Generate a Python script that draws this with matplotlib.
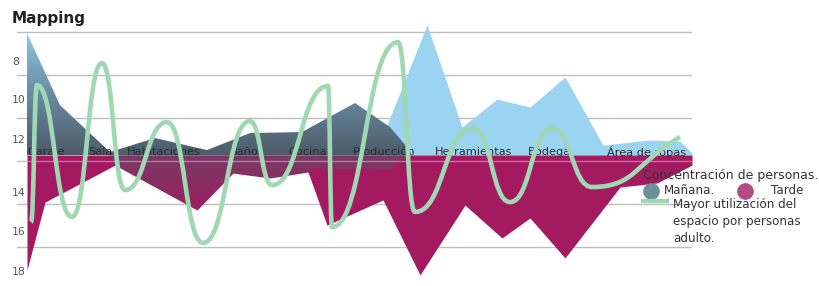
import numpy as np
import matplotlib
matplotlib.use('Agg')
import matplotlib.pyplot as plt
from matplotlib.path import Path
from matplotlib.patches import PathPatch
from matplotlib.lines import Line2D
from matplotlib.colors import to_rgb

# categories and where their labels start along the x axis
categories = ['Garaje', 'Sala', 'Habitaciones', 'Baño', 'Cocina', 'Producción',
              'Herramientas', 'Bodega', 'Área de ropas']
cat_pos = [27, 88, 127, 230, 288, 353, 435, 528, 607]

baseline = 11.72

# Mañana (dark gradient part): top edge, then lower edge
manana_top_x = [27, 27, 60, 110, 155, 207, 250, 302, 355, 390, 407, 412]
manana_top_v = [11.72, 6.05, 9.40, 11.58, 10.93, 11.49, 10.70, 10.65, 9.30, 10.42, 11.35, 11.72]
manana_low_x = [27, 110, 115, 197, 233, 270, 308, 315, 390, 398, 412]
manana_low_v = [11.72, 11.72, 12.19, 14.28, 12.56, 12.79, 12.51, 12.33, 12.42, 12.05, 11.72]

# Mañana (light blue part)
blue_x = [375, 427, 462, 497, 530, 565, 603, 650, 680, 692]
blue_v = [11.72, 5.67, 10.42, 9.12, 9.49, 8.09, 11.26, 11.02, 11.07, 11.63]

# Tarde lower edge
tarde_x = [27, 27, 45, 115, 197, 233, 270, 308, 327, 383, 420, 465, 502, 530, 565, 620, 657, 692]
tarde_v = [11.72, 17.07, 13.91, 12.19, 14.28, 12.56, 12.79, 12.51, 14.98, 13.81, 17.30,
           14.05, 15.58, 14.65, 16.51, 13.21, 13.02, 12.19]

# mayor utilización (smoothed line through peaks and troughs)
green_x = [31, 37, 72, 102, 125, 167, 203, 250, 272, 328, 332, 398, 415, 473, 510, 552, 592, 680]
green_v = [14.84, 8.47, 14.60, 7.44, 13.35, 10.19, 15.81, 10.14, 13.12, 8.51, 15.07, 6.47,
           14.37, 10.47, 13.91, 10.47, 13.21, 10.88]

grid_vals = [6, 8, 10, 12, 14, 16]
ytick_labels = ['8', '10', '12', '14', '16', '18']
ytick_pos = [7.40, 9.16, 11.02, 13.49, 15.30, 17.16]

light_blue = '#9bd4f1'
magenta = '#a31a60'
green = '#a0d8b4'
slate = '#4d5b69'

fig = plt.figure(figsize=(8.19, 2.86), dpi=100)
ax = fig.add_axes([17 / 819, 1 - 282 / 286, 675 / 819, 260 / 286])

ax.set_yticks(grid_vals)
ax.yaxis.grid(True, color='#bdbdbd', lw=1)
ax.set_axisbelow(True)
ax.tick_params(left=False, labelleft=False, bottom=False, labelbottom=False)
for s in ax.spines.values():
    s.set_visible(False)

ax.fill_between(blue_x, blue_v, baseline, color=light_blue, lw=0, zorder=1)
ax.fill_between(tarde_x, baseline, tarde_v, color=magenta, lw=0, zorder=1.5)

# gradient for the dark Mañana area
ymin, ymax = 5.53, 17.63
vs = np.linspace(ymin, ymax, 400)
c_top = np.array(to_rgb('#8fd0ef'))
c_bot = np.array(to_rgb(slate))
img = np.zeros((len(vs), 1, 4))
for i, v in enumerate(vs):
    if v <= baseline:
        t = np.clip((v - 6) / (baseline - 6), 0, 1) ** 0.8
        img[i, 0, :3] = c_top * (1 - t) + c_bot * t
        img[i, 0, 3] = 1
    else:
        t = np.clip((v - baseline) / 2.6, 0, 1)
        img[i, 0, :3] = c_bot
        img[i, 0, 3] = 0.5 * (1 - t) + 0.08 * t
poly = ax.fill(manana_top_x + manana_low_x[::-1], manana_top_v + manana_low_v[::-1],
               facecolor='none', edgecolor='none')[0]
im = ax.imshow(img, extent=(17, 692, ymax, ymin), origin='upper', aspect='auto', zorder=2)
im.set_clip_path(poly)

# faint gridline showing through the areas
ax.axhline(12, color='#e6c4d6', lw=0.9, alpha=0.55, zorder=2.5)

for name, x in zip(categories, cat_pos):
    ax.text(x, 11.58, name, fontsize=8.2, color='#2b2b2b', ha='left', va='center', zorder=3)

for lab, v in zip(ytick_labels, ytick_pos):
    ax.text(-0.0074, v, lab, transform=ax.get_yaxis_transform(), fontsize=7.8,
            color='#555555', ha='left', va='center')

# smooth line as cubic bezier segments
k = 0.5
verts = [(green_x[0], green_v[0])]
codes = [Path.MOVETO]
n = len(green_x)
for i in range(n - 1):
    x0, y0, x1, y1 = green_x[i], green_v[i], green_x[i + 1], green_v[i + 1]
    dx = x1 - x0
    c1 = (x0 + k * dx, y0)
    if i == n - 2:
        c2 = (x1 - k * dx, y1 - 0.5 * (y1 - y0))
    else:
        c2 = (x1 - k * dx, y1)
    verts += [c1, c2, (x1, y1)]
    codes += [Path.CURVE4] * 3
ax.add_patch(PathPatch(Path(verts, codes), facecolor='none', edgecolor=green, lw=3.3,
                       capstyle='butt', zorder=4))

ax.set_xlim(17, 692)
ax.set_ylim(ymax, ymin)

fig.text(12 / 819, 1 - 18 / 286, 'Mapping', fontsize=11, fontweight='bold', color='#222222',
         va='center', ha='left')

# legend
fs = 8.6
fig.text(643 / 819, 1 - 175 / 286, 'Concentración de personas.', fontsize=9, color='#333333',
         va='center', ha='left')
fig.add_artist(Line2D([651 / 819], [1 - 191 / 286], marker='o', ms=11, color='#6c8f98',
                      transform=fig.transFigure))
fig.text(664 / 819, 1 - 191 / 286, 'Mañana.', fontsize=fs, color='#333333', va='center', ha='left')
fig.add_artist(Line2D([745 / 819], [1 - 191 / 286], marker='o', ms=11, color='#b34a84',
                      transform=fig.transFigure))
fig.text(771 / 819, 1 - 191 / 286, 'Tarde', fontsize=fs, color='#333333', va='center', ha='left')
fig.add_artist(Line2D([643 / 819, 667 / 819], [1 - 201 / 286] * 2, lw=3, color=green,
                      transform=fig.transFigure))
fig.text(673 / 819, 1 - 198 / 286, 'Mayor utilización del\nespacio por personas\nadulto.',
         fontsize=fs, color='#333333', va='top', ha='left', linespacing=1.4)

fig.savefig('out.png', dpi=100)
